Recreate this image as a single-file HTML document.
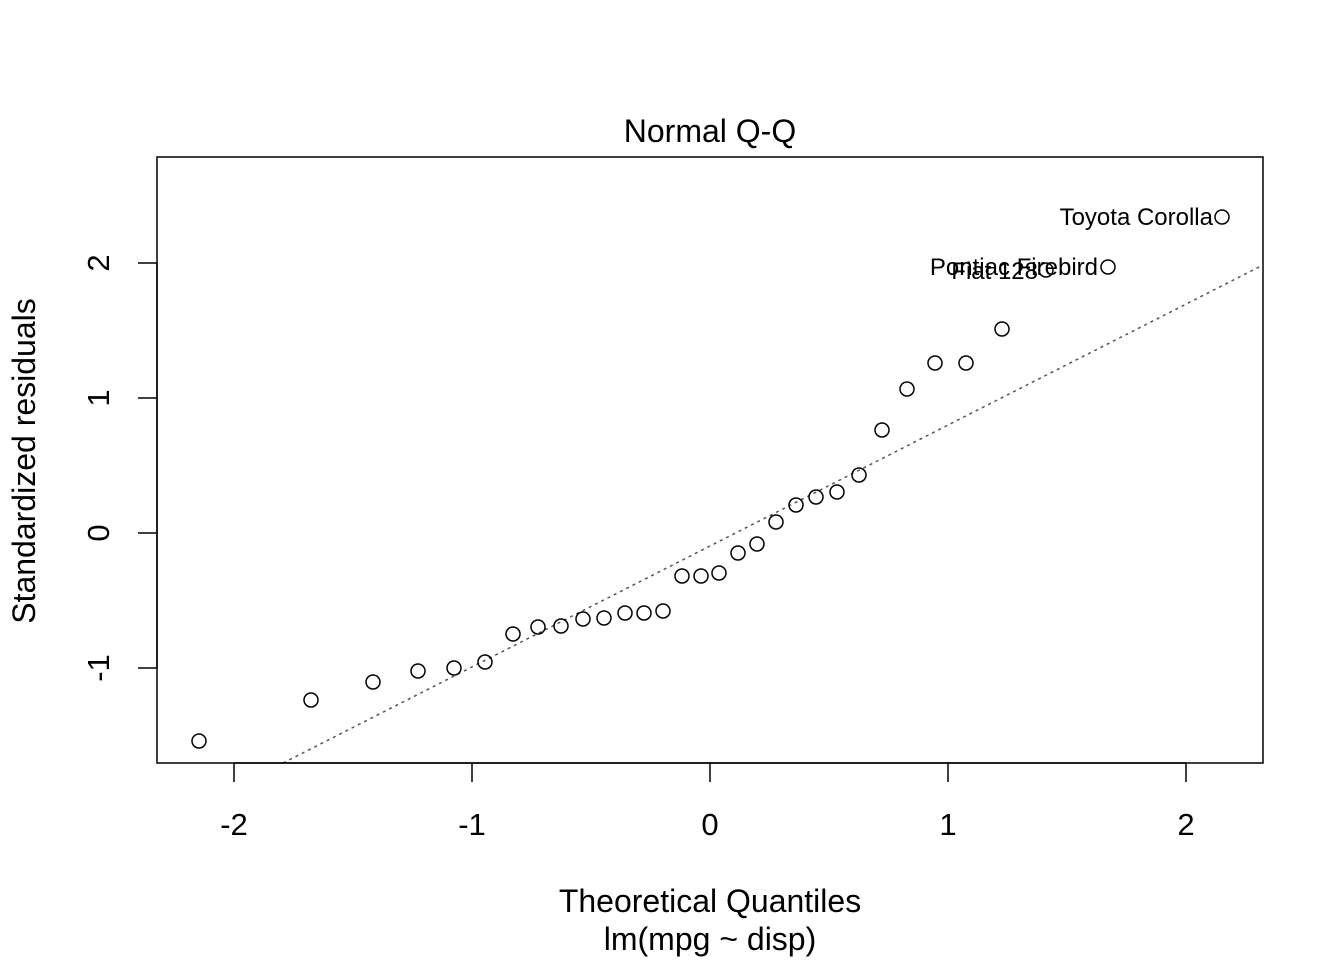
<!DOCTYPE html>
<html><head><meta charset="utf-8"><style>
html,body{margin:0;padding:0;background:#fff;}
svg{display:block;}
text{font-family:"Liberation Sans",Arial,sans-serif;fill:#000;}
</style></head><body>
<svg width="1344" height="960" viewBox="0 0 1344 960" xmlns="http://www.w3.org/2000/svg">
<rect x="0" y="0" width="1344" height="960" fill="#fff"/>
<text x="710" y="142" font-size="32" text-anchor="middle">Normal Q-Q</text>
<rect x="157" y="157" width="1106" height="606" fill="none" stroke="#000" stroke-width="1.5"/>
<line x1="283" y1="763" x2="1263" y2="265" stroke="#555" stroke-width="1.5" stroke-dasharray="3,4"/>
<g stroke="#000" stroke-width="1.5">
<line x1="234" y1="763" x2="1186" y2="763"/>
<line x1="234" y1="763" x2="234" y2="782"/>
<line x1="472" y1="763" x2="472" y2="782"/>
<line x1="710" y1="763" x2="710" y2="782"/>
<line x1="948" y1="763" x2="948" y2="782"/>
<line x1="1186" y1="763" x2="1186" y2="782"/>
<line x1="157" y1="263" x2="157" y2="668"/>
<line x1="138" y1="263" x2="157" y2="263"/>
<line x1="138" y1="398" x2="157" y2="398"/>
<line x1="138" y1="533" x2="157" y2="533"/>
<line x1="138" y1="668" x2="157" y2="668"/>
</g>
<g font-size="31" text-anchor="middle">
<text x="234" y="835">-2</text>
<text x="472" y="835">-1</text>
<text x="710" y="835">0</text>
<text x="948" y="835">1</text>
<text x="1186" y="835">2</text>
<text transform="translate(109,263) rotate(-90)">2</text>
<text transform="translate(109,398) rotate(-90)">1</text>
<text transform="translate(109,533) rotate(-90)">0</text>
<text transform="translate(109,668) rotate(-90)">-1</text>
</g>
<text x="710" y="912" font-size="32" text-anchor="middle">Theoretical Quantiles</text>
<text x="710" y="950" font-size="32" text-anchor="middle">lm(mpg ~ disp)</text>
<text transform="translate(35,461) rotate(-90)" font-size="32" text-anchor="middle">Standardized residuals</text>
<g fill="none" stroke="#000" stroke-width="1.5">
<circle cx="199" cy="741" r="7"/><circle cx="311" cy="700" r="7"/><circle cx="373" cy="682" r="7"/>
<circle cx="418" cy="671" r="7"/><circle cx="454" cy="668" r="7"/><circle cx="485" cy="662" r="7"/>
<circle cx="513" cy="634" r="7"/><circle cx="538" cy="627" r="7"/><circle cx="561" cy="626" r="7"/>
<circle cx="583" cy="619" r="7"/><circle cx="604" cy="618" r="7"/><circle cx="625" cy="613" r="7"/>
<circle cx="644" cy="613" r="7"/><circle cx="663" cy="611" r="7"/><circle cx="682" cy="576" r="7"/>
<circle cx="701" cy="576" r="7"/><circle cx="719" cy="573" r="7"/><circle cx="738" cy="553" r="7"/>
<circle cx="757" cy="544" r="7"/><circle cx="776" cy="522" r="7"/><circle cx="796" cy="505" r="7"/>
<circle cx="816" cy="497" r="7"/><circle cx="837" cy="492" r="7"/><circle cx="859" cy="475" r="7"/>
<circle cx="882" cy="430" r="7"/><circle cx="907" cy="389" r="7"/><circle cx="935" cy="363" r="7"/>
<circle cx="966" cy="363" r="7"/><circle cx="1002" cy="329" r="7"/><circle cx="1046" cy="270" r="7"/>
<circle cx="1108" cy="267" r="7"/><circle cx="1222" cy="217" r="7"/>
</g>
<g font-size="24" text-anchor="end">
<text x="1213" y="225">Toyota Corolla</text>
<text x="1098" y="275">Pontiac Firebird</text>
<text x="1038" y="279">Fiat 128</text>
</g>
</svg>
</body></html>
